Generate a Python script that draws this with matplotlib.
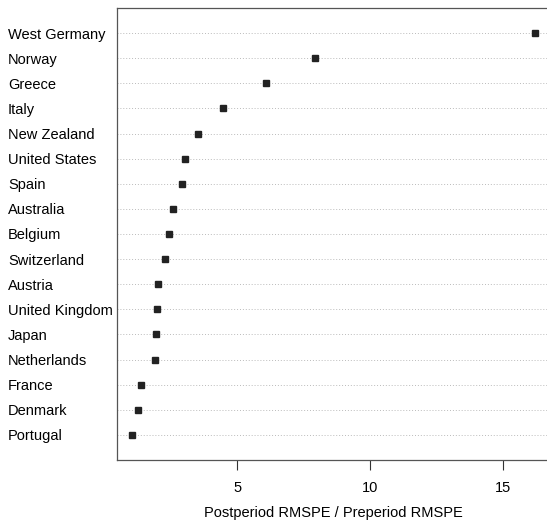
import matplotlib.pyplot as plt

countries = ['West Germany', 'Norway', 'Greece', 'Italy', 'New Zealand',
             'United States', 'Spain', 'Australia', 'Belgium', 'Switzerland',
             'Austria', 'United Kingdom', 'Japan', 'Netherlands', 'France',
             'Denmark', 'Portugal']
ratio = [16.22, 7.92, 6.07, 4.45, 3.54, 3.05, 2.93, 2.59, 2.45, 2.29,
         2.03, 2.00, 1.96, 1.92, 1.39, 1.26, 1.03]
xticks = [5, 10, 15]

plt.rcParams['font.family'] = ['Liberation Sans', 'DejaVu Sans']

fig = plt.figure(figsize=(5.47, 5.2), dpi=100)
ax = fig.add_axes([117/547, 60/520, 1.005 - 117/547, 452/520])

ypos = list(range(len(countries), 0, -1))
for y in ypos:
    ax.axhline(y, color='#bbbbbb', lw=0.7, ls=(0, (1, 2)), zorder=1)
ax.plot(ratio, ypos, 's', ms=4.5, color='#222222', mec='#222222', zorder=3)

ax.set_ylim(0, len(countries) + 1)
ax.set_xlim(0.48, 16.76)
ax.set_yticks(ypos)
ax.set_yticklabels(countries, fontsize=10.5)
for lab in ax.get_yticklabels():
    lab.set_horizontalalignment('left')
ax.tick_params(axis='y', length=0, pad=109 * 0.72)
ax.set_xticks(xticks)
ax.set_xticklabels([str(t) for t in xticks], fontsize=10.5)
ax.tick_params(axis='x', length=7.2, width=0.8, color='#333333', pad=8)
ax.set_xlabel('Postperiod RMSPE / Preperiod RMSPE', fontsize=10.5, labelpad=8)

for s in ['left', 'top', 'bottom']:
    ax.spines[s].set_color('#555555')
    ax.spines[s].set_linewidth(0.9)
ax.spines['right'].set_visible(False)

fig.savefig('out.png', dpi=100)
